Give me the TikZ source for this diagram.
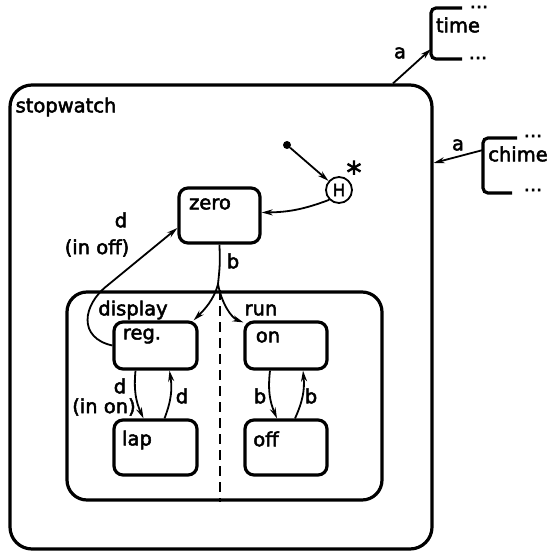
\documentclass[tikz,border=0pt]{standalone}
\usepackage{fontspec}
\setmainfont{DejaVu Sans}
\newfontfamily\labfont{DejaVu Sans}[FakeBold=2.5]
\usetikzlibrary{arrows.meta,calc}
\tikzset{
  statebox/.style={draw, line width=3.2pt, rounded corners=9pt, inner sep=0pt},
  bigbox/.style={draw, line width=3.2pt, rounded corners=22pt, inner sep=0pt},
  txt/.style={inner sep=0pt, font=\labfont\fontsize{19.5}{21}\selectfont},
  tr/.style={line width=1.8pt, -{Stealth[length=11pt,width=6pt]}},
  brk/.style={line width=3.2pt, rounded corners=5pt},
}
\begin{document}
\begin{tikzpicture}[x=1pt,y=-1pt]
\useasboundingbox (0,0) rectangle (548,553);
% boxes
\node[bigbox, minimum width=422pt, minimum height=464pt] (sw) at (221,317) {};
\node[bigbox, rounded corners=20pt, minimum width=315pt, minimum height=208pt] (inner) at (224.5,396) {};
\node[statebox, minimum width=81pt, minimum height=55pt] (zero) at (219.5,215.5) {};
\node[statebox, minimum width=83pt, minimum height=47pt] (reg) at (155.5,345.5) {};
\node[statebox, minimum width=83pt, minimum height=55pt] (lap) at (155.5,447.5) {};
\node[statebox, minimum width=82pt, minimum height=47pt] (on) at (286,345.5) {};
\node[statebox, minimum width=82pt, minimum height=55pt] (off) at (286,447.5) {};
% dashed separator
\draw[line width=2.5pt, dash pattern=on 10pt off 6pt] ([xshift=-4.5pt]inner.north) -- ([xshift=-4.5pt]inner.south);
% texts
\node[txt] (tsw) at (66,107) {stopwatch};
\node[txt] (tzero) at (210,204) {zero};
\node[txt] (tdisplay) at (133,310) {display};
\node[txt] (trun) at (261,310) {run};
\node[txt] (treg) at (142,336) {reg.};
\node[txt] (ton) at (268,337) {on};
\node[txt] (tlap) at (137,440) {lap};
\node[txt] (toff) at (266,439) {off};
\node[txt] (ld1) at (121,220) {d};
\node[txt] (linoff) at (97,248) {(in off)};
\node[txt] (lb1) at (233,261) {b};
\node[txt] (ld2) at (120,386) {d};
\node[txt] (linon) at (104,407) {(in on)};
\node[txt] (ld3) at (182,396) {d};
\node[txt] (lb2) at (260,396) {b};
\node[txt] (lb3) at (311,396) {b};
\node[txt] (ttime) at (458,25) {time};
\node[txt] (tchime) at (518,154) {chime};
\node[txt] (la1) at (400,53) {a};
\node[txt] (la2) at (458,145) {a};
% history
\node[draw, circle, line width=1.8pt, minimum size=26pt, inner sep=0pt, font=\labfont\fontsize{17}{19}\selectfont] (H) at (339,190) {H};
\node[inner sep=0pt, font=\labfont\fontsize{30}{30}\selectfont] (star) at (354,172) {*};
\node[circle, fill, minimum size=8pt, inner sep=0pt] (init) at (287,145) {};
% brackets
\draw[brk] (462,8) -- (431,8) -- (431,59) -- (462,59);
\draw[brk] (517,138) -- (483,138) -- (483,193) -- (512,193);
\node[txt] (dt1) at (479,7) {...};
\node[txt] (dt2) at (478,58) {...};
\node[txt] (dc1) at (533,136) {...};
\node[txt] (dc2) at (533,190) {...};
\coordinate (timeL) at (431,49);
\coordinate (chimeL) at (483,150);
\coordinate (swtop) at ([xshift=172pt]sw.north);
\coordinate (swright) at ([yshift=154pt]sw.east);
\coordinate (sp) at (218,284);
% transitions
\draw[tr] (swtop) -- (timeL);
\draw[tr] (chimeL) -- (swright);
\draw[tr] (init) -- (H);
\draw[tr] (H.225) to[bend left=10] ([yshift=3pt]zero.east);
\draw[line width=1.8pt] (zero.south) .. controls (220,265) .. (sp);
\draw[tr] (sp) .. controls (214,300) and (204,310) .. ([xshift=-5pt]reg.north east);
\draw[tr] (sp) .. controls (222,305) and (232,318) .. ([yshift=-2pt]on.north west);
\draw[tr] (reg.west) .. controls (78,338) and (82,305) .. (108,285) -- ([yshift=-12.5pt]zero.west);
\draw[tr] ([xshift=-20pt]reg.south) to[bend right=15] ([xshift=-12pt]lap.north);
\draw[tr] ([xshift=9pt]lap.north) to[bend right=15] ([xshift=14pt]reg.south);
\draw[tr] ([xshift=-16pt]on.south) to[bend right=15] ([xshift=-9pt]off.north);
\draw[tr] ([xshift=9pt]off.north) to[bend right=15] ([xshift=17pt]on.south);
\end{tikzpicture}
\end{document}
